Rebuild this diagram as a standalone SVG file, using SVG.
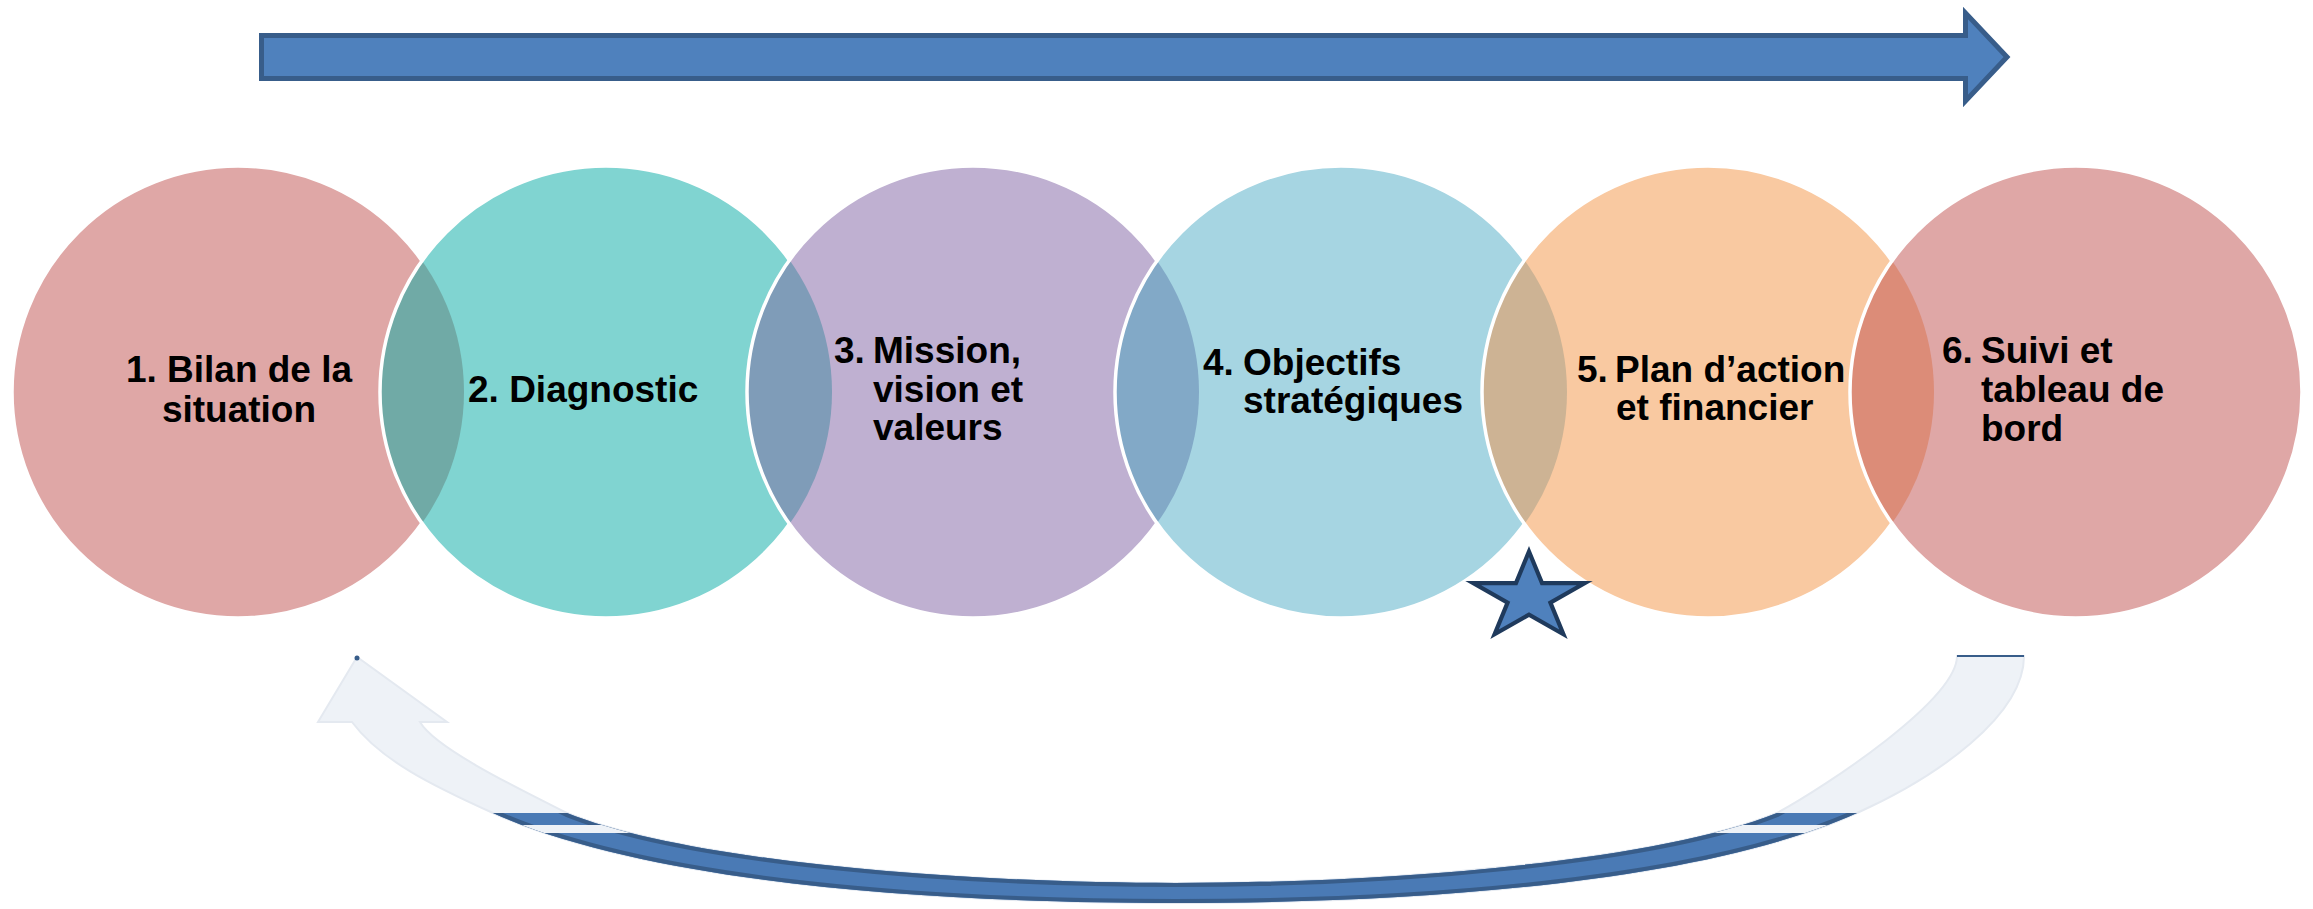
<svg xmlns="http://www.w3.org/2000/svg" xmlns:xlink="http://www.w3.org/1999/xlink" width="2313" height="909" viewBox="0 0 2313 909">
<style>
.lbl{font-family:"Liberation Sans",Arial,sans-serif;font-weight:bold;font-size:37px;fill:#000}
.ring{fill:none;stroke:#fff;stroke-width:3.5}
</style>
<defs>
<clipPath id="c1"><circle cx="238" cy="392" r="226"/></clipPath>
<clipPath id="c2"><circle cx="606" cy="392" r="226"/></clipPath>
<clipPath id="c3"><circle cx="973" cy="392" r="226"/></clipPath>
<clipPath id="c4"><circle cx="1341" cy="392" r="226"/></clipPath>
<clipPath id="c5"><circle cx="1708" cy="392" r="226"/></clipPath>
<path id="ret" d="M2024,656 C2024,716 1937,777 1857,813 C1697,885 1405,903 1175,903 C945,903 653,885 493,813 C433,786 380,760 352,722 L318,722 L357,657 L447,722 L420,722 C435,748 517,788 567,813 C687,861 955,883 1175,883 C1395,883 1657,861 1777,813 C1825,787 1957,700 1957,656 Z"/>
<clipPath id="retClip"><use xlink:href="#ret"/></clipPath>
<clipPath id="lowClip"><rect x="0" y="813" width="2313" height="96"/></clipPath>
</defs>
<rect width="2313" height="909" fill="#fff"/>

<g id="arrows">
<path id="top-arrow" d="M261.5,35.5 L1965.5,35.5 L1965.5,13 L2007,57 L1965.5,101 L1965.5,78.5 L261.5,78.5 Z" fill="#4F81BD" stroke="#385D8A" stroke-width="5"/>
<g id="return-arrow">
<use xlink:href="#ret" fill="#EEF2F7" stroke="#E4E9F0" stroke-width="2"/>
<g clip-path="url(#lowClip)">
<g clip-path="url(#retClip)">
<rect x="0" y="813" width="2313" height="96" fill="#4A7AB5"/>
<use xlink:href="#ret" fill="none" stroke="#385D8A" stroke-width="8"/>
<rect x="0" y="825" width="2313" height="8" fill="#EEF2F7"/>
</g>
</g>
<line x1="1957" y1="656" x2="2024" y2="656" stroke="#385D8A" stroke-width="2"/>
<circle cx="357" cy="658" r="2.5" fill="#385D8A"/>
</g>
</g>

<g id="node1">
<circle cx="238" cy="392" r="226" fill="#DFA7A6"/>
<circle class="ring" cx="238" cy="392" r="226"/>
<text class="lbl" text-anchor="middle"><tspan x="239" y="382">1. Bilan de la</tspan><tspan x="239" y="422">situation</tspan></text>
</g>

<g id="node2">
<circle cx="606" cy="392" r="226" fill="#80D4D1"/>
<circle cx="606" cy="392" r="226" fill="#70AAA6" clip-path="url(#c1)"/>
<circle class="ring" cx="606" cy="392" r="226"/>
<text class="lbl" x="468" y="402">2. Diagnostic</text>
</g>

<g id="node3">
<circle cx="973" cy="392" r="226" fill="#BFB0D1"/>
<circle cx="973" cy="392" r="226" fill="#7F9CB8" clip-path="url(#c2)"/>
<circle class="ring" cx="973" cy="392" r="226"/>
<text class="lbl"><tspan x="834" y="363">3.</tspan><tspan x="873" y="363">Mission,</tspan><tspan x="873" y="402">vision et</tspan><tspan x="873" y="440">valeurs</tspan></text>
</g>

<g id="node4">
<circle cx="1341" cy="392" r="226" fill="#A6D5E2"/>
<circle cx="1341" cy="392" r="226" fill="#82A9C7" clip-path="url(#c3)"/>
<circle class="ring" cx="1341" cy="392" r="226"/>
<text class="lbl"><tspan x="1203" y="375">4.</tspan><tspan x="1243" y="375">Objectifs</tspan><tspan x="1243" y="413">stratégiques</tspan></text>
</g>

<g id="node5">
<circle cx="1708" cy="392" r="226" fill="#F9C9A1"/>
<circle cx="1708" cy="392" r="226" fill="#CDB394" clip-path="url(#c4)"/>
<circle class="ring" cx="1708" cy="392" r="226"/>
<text class="lbl"><tspan x="1577" y="382">5.</tspan><tspan x="1615" y="382">Plan d’action</tspan><tspan x="1616" y="420">et financier</tspan></text>
</g>

<g id="node6">
<circle cx="2076" cy="392" r="226" fill="#DFA7A6"/>
<circle cx="2076" cy="392" r="226" fill="#DC8C78" clip-path="url(#c5)"/>
<circle class="ring" cx="2076" cy="392" r="226"/>
<text class="lbl"><tspan x="1942" y="363">6.</tspan><tspan x="1981" y="363">Suivi et</tspan><tspan x="1981" y="402">tableau de</tspan><tspan x="1981" y="441">bord</tspan></text>
</g>

<g id="star">
<path transform="translate(1529,597) scale(0.93)" d="M0,-49 L14,-15 L60,-15 L23,6 L37,40 L0,19 L-37,40 L-23,6 L-60,-15 L-14,-15 Z" fill="#4F81BD" stroke="#1F3A5C" stroke-width="4.5" stroke-linejoin="miter"/>
</g>
</svg>
